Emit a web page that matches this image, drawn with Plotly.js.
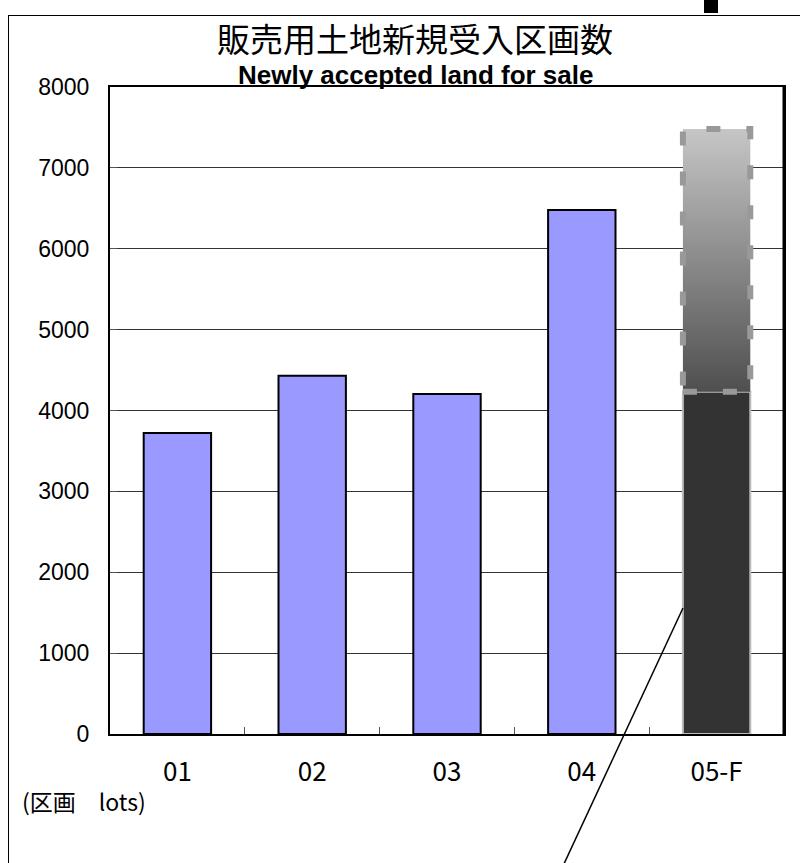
<!DOCTYPE html>
<html>
<head>
<meta charset="utf-8">
<script src="https://cdn.plot.ly/plotly-3.0.1.min.js"></script>
<style>
  html, body { margin: 0; padding: 0; background: #fff; }
  #wrap { position: relative; width: 800px; height: 863px; overflow: hidden; }
  #frame { position: absolute; left: 8px; top: 15px; width: 900px; height: 900px;
           border: 1.5px solid #000; box-sizing: border-box; pointer-events: none; }
  #chart { position: absolute; left: 0; top: 0; width: 800px; height: 863px; }
</style>
</head>
<body>
<div id="wrap">
  <div id="chart"></div>
  <div id="frame"></div>
</div>
<script>
// ---- data ----
const categories = ['01', '02', '03', '04', '05-F'];
const lotValues = [3722, 4430, 4204, 6479, 4232];
const barColors = ['#9999ff', '#9999ff', '#9999ff', '#9999ff', '#333333'];
const barLineColors = ['#000000', '#000000', '#000000', '#000000', '#bbbbbb'];
const forecastCategoryIndex = 4;
const forecastLow = 4232;
const forecastHigh = 7480;
const yTickValues = [0, 1000, 2000, 3000, 4000, 5000, 6000, 7000, 8000];
const titleText = '販売用土地新規受入区画数';
const subtitleText = 'Newly accepted land for sale';
const unitText = '(区画　lots)';

const bargap = 0.5;
const half = (1 - bargap) / 2;
const fi = forecastCategoryIndex;

const bars = {
  type: 'bar',
  x: categories,
  y: lotValues,
  marker: { color: barColors, line: { color: barLineColors, width: 2 } },
  hoverinfo: 'x+y'
};

const forecastBox = {
  type: 'scatter',
  xaxis: 'x2',
  x: [fi - half, fi + half, fi + half, fi - half, fi - half],
  y: [forecastLow, forecastLow, forecastHigh, forecastHigh, forecastLow],
  mode: 'lines',
  fill: 'toself',
  fillgradient: { type: 'vertical', colorscale: [[0, '#4f4f4f'], [1, '#c6c6c6']] },
  line: { color: '#999999', width: 6, dash: '14px,26px' },
  hoverinfo: 'skip'
};

const layout = {
  width: 800, height: 863,
  margin: { l: 110, r: 16, t: 87, b: 129 },
  paper_bgcolor: '#ffffff',
  plot_bgcolor: '#ffffff',
  showlegend: false,
  bargap: bargap,
  title: {
    text: titleText,
    font: { family: 'Noto Sans CJK JP', size: 33, color: '#000' },
    x: 415 / 800, xanchor: 'center', xref: 'container',
    y: 1 - 40 / 863, yanchor: 'middle', yref: 'container'
  },
  xaxis: {
    type: 'category',
    range: [-0.5, 4.5],
    showline: true, linecolor: '#000', linewidth: 2, mirror: true,
    ticks: 'inside', tickson: 'boundaries', ticklen: 7, tickcolor: '#555', tickwidth: 1,
    tickfont: { family: 'Liberation Sans Narrow, Noto Sans CJK JP', size: 26, color: '#000' },
    ticklabelstandoff: 14,
    showgrid: false, zeroline: false, fixedrange: true
  },
  xaxis2: {
    overlaying: 'x', range: [-0.5, 4.5], visible: false, fixedrange: true
  },
  yaxis: {
    range: [0, 8000],
    tickvals: yTickValues,
    showline: true, linecolor: '#000', linewidth: 2, mirror: true,
    ticks: 'inside', ticklen: 7, tickcolor: '#555', tickwidth: 1,
    tickfont: { family: 'Liberation Sans', size: 23, color: '#000' },
    ticklabelstandoff: 14,
    showgrid: true, gridcolor: '#333333', gridwidth: 1,
    zeroline: false, fixedrange: true
  },
  annotations: [
    {
      text: '<b>' + subtitleText + '</b>',
      xref: 'paper', yref: 'paper',
      x: (415 - 110) / 674, y: (734 - 75) / 647,
      xanchor: 'center', yanchor: 'middle', showarrow: false,
      font: { family: 'Liberation Sans', size: 26, color: '#000' }
    },
    {
      text: unitText,
      xref: 'paper', yref: 'paper',
      x: (20 - 110) / 674, y: (734 - 801) / 647,
      xanchor: 'left', yanchor: 'middle', showarrow: false,
      font: { family: 'Noto Sans CJK JP', size: 23, color: '#000' }
    }
  ],
  shapes: [
    {
      type: 'line', xref: 'paper', yref: 'paper',
      x0: (683 - 110) / 674, y0: (734 - 608) / 647,
      x1: (563 - 110) / 674, y1: (734 - 866) / 647,
      line: { color: '#000', width: 1.5 }
    },
    {
      type: 'line', xref: 'paper', yref: 'paper',
      x0: 1, x1: 1, y0: 0, y1: 1,
      line: { color: '#000', width: 3 }
    },
    {
      type: 'rect', xref: 'paper', yref: 'paper',
      x0: (704 - 110) / 674, x1: (718 - 110) / 674,
      y0: (734 - 13) / 647, y1: (734 + 2) / 647,
      fillcolor: '#000', line: { width: 0 }
    }
  ]
};

Plotly.newPlot('chart', [bars, forecastBox], layout, { displayModeBar: false, staticPlot: true });
</script>
</body>
</html>
